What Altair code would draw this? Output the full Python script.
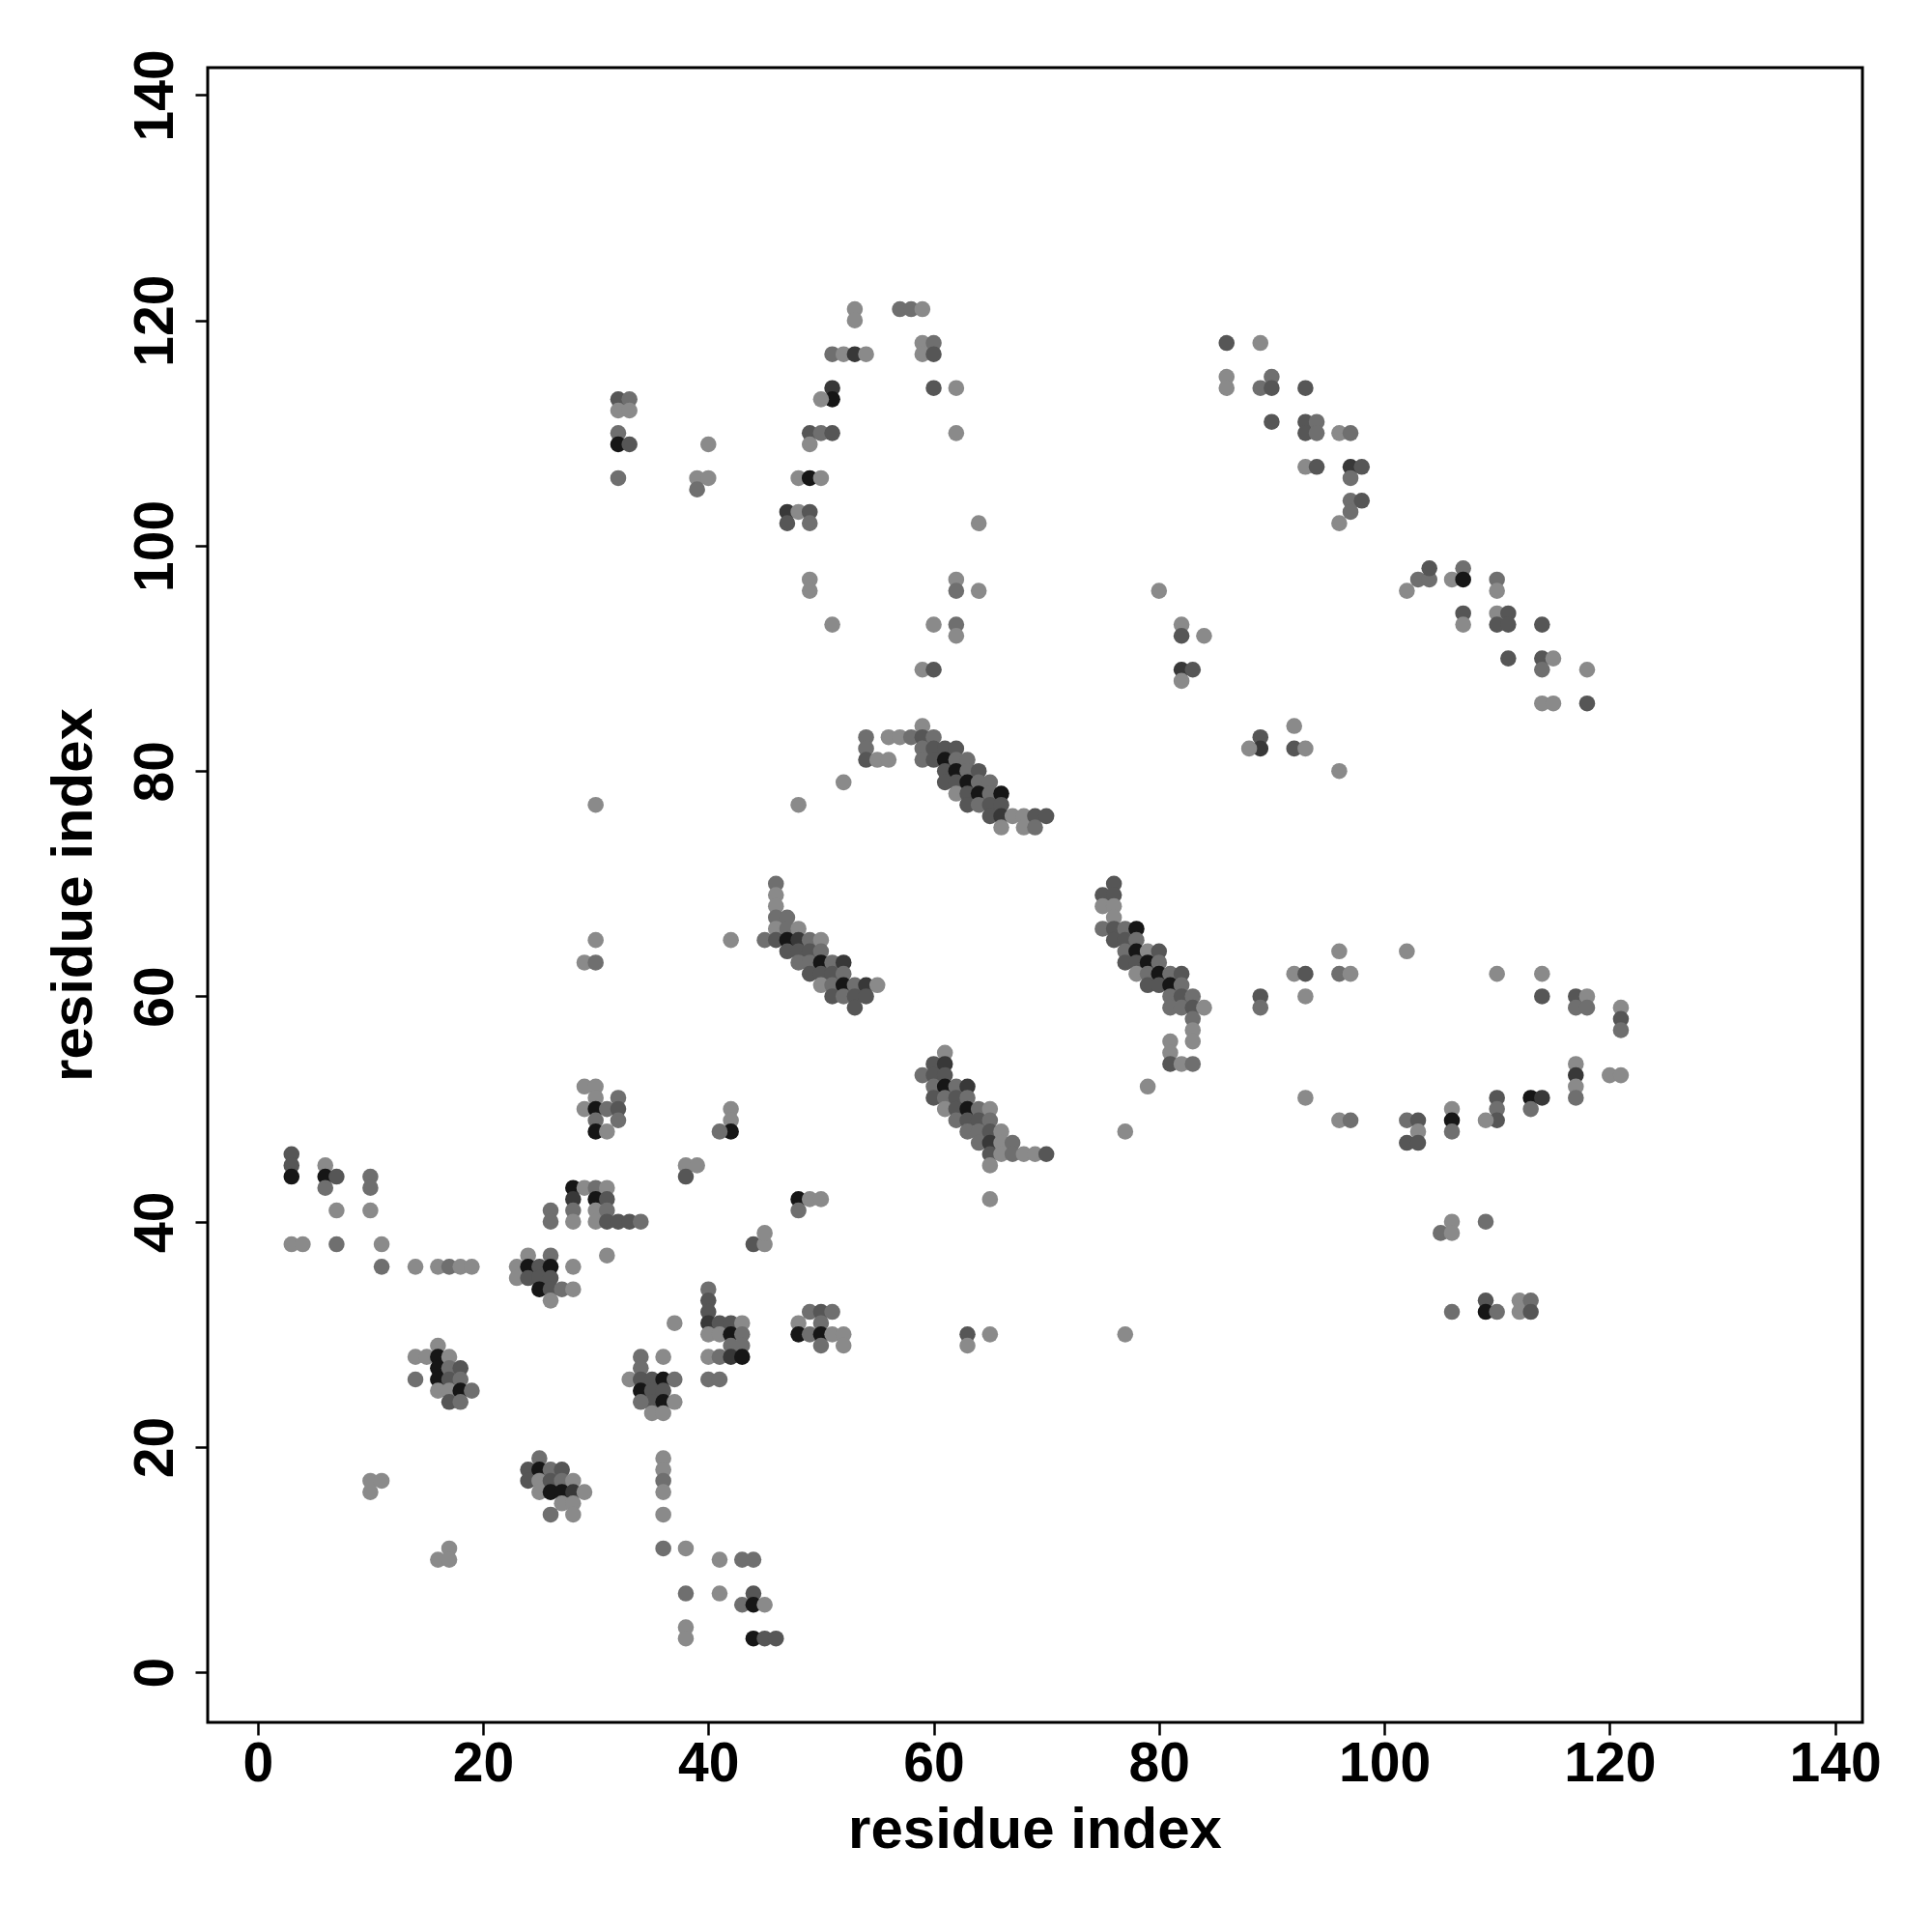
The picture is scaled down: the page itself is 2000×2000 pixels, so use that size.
import altair as alt
import pandas as pd

# contacts: (residue i, residue j, shade level 1=light .. 5=black)
upper_left = [
    (32,113,3),(33,113,2),(32,112,1),(33,112,1),(32,110,2),(32,109,5),(33,109,3),(32,106,2),
    (40,109,1),(39,106,1),(40,106,1),(39,105,2),
]
upper_mid = [
    (53,121,1),(53,120,1),(57,121,2),(58,121,2),(59,121,1),
    (59,118,1),(60,118,2),(59,117,1),(60,117,3),
    (51,117,2),(52,117,1),(53,117,4),(54,117,1),
    (51,114,4),(51,113,5),(50,113,1),(60,114,3),(62,114,1),
    (49,110,3),(50,110,2),(51,110,3),(49,109,1),(62,110,1),
    (48,106,1),(49,106,5),(50,106,1),
    (47,103,4),(48,103,1),(49,103,3),(47,102,3),(49,102,2),(64,102,1),
    (49,97,1),(49,96,1),(62,97,1),(62,96,2),(64,96,1),
    (51,93,1),(60,93,1),(62,93,2),(62,92,1),(59,89,1),(60,89,3),
]
upper_right = [
    (86,118,3),(89,118,1),(86,115,1),(86,114,1),(89,114,2),(90,115,2),(90,114,3),(93,114,3),
    (90,111,3),(93,111,3),(94,111,2),(93,110,3),(94,110,2),(96,110,1),(97,110,2),
    (93,107,1),(94,107,3),(97,107,4),(98,107,3),(97,106,2),
    (97,104,2),(98,104,3),(97,103,2),(96,102,1),
    (80,96,1),(82,93,1),(82,92,3),(84,92,1),(82,89,4),(83,89,3),(82,88,1),
    (89,83,3),(89,82,4),(88,82,1),(92,84,1),(92,82,3),(93,82,1),(96,80,1),
    (102,96,1),(103,97,2),(104,97,2),(104,98,3),(106,97,1),(107,98,2),(107,97,5),(110,97,2),(110,96,1),
    (107,94,3),(107,93,1),(110,94,1),(111,94,3),(110,93,3),(111,93,3),(114,93,3),
    (111,90,3),(114,90,3),(115,90,1),(114,89,2),(118,89,1),(114,86,1),(115,86,1),(118,86,3),
]
strand_80 = [
    (54,83,2),(54,82,2),(54,81,3),(55,81,1),(56,81,1),(56,83,1),(57,83,1),(58,83,2),(59,84,1),(59,83,3),(60,83,2),
    (59,82,2),(59,81,2),(60,82,3),(60,81,3),(61,82,3),(61,81,5),(61,80,3),(61,79,3),(62,82,3),(62,81,2),(62,80,5),(62,79,3),(62,78,1),
    (63,81,2),(63,80,2),(63,79,5),(63,78,3),(63,77,3),(64,80,3),(64,79,2),(64,78,5),(64,77,2),
    (65,79,2),(65,78,2),(65,77,3),(65,76,3),(66,78,5),(66,77,3),(66,76,4),(66,75,1),
    (67,76,1),(68,76,1),(68,75,1),(69,76,3),(69,75,2),(70,76,3),(52,79,1),(48,77,1),(30,77,1),
]
strand_65 = [
    (46,70,2),(46,69,1),(46,68,1),(46,67,2),(47,67,2),(46,66,1),(47,66,2),(48,66,1),
    (42,65,1),(45,65,2),(46,65,3),(47,65,5),(48,65,4),(49,65,2),(50,65,1),
    (47,64,3),(48,64,3),(49,64,3),(50,64,2),
    (48,63,2),(49,63,2),(50,63,5),(51,63,2),(52,63,4),
    (49,62,3),(50,62,3),(51,62,3),(52,62,2),
    (50,61,1),(51,61,2),(52,61,5),(53,61,2),(54,61,4),(55,61,1),
    (51,60,3),(52,60,2),(53,60,3),(54,60,3),(53,59,3),
    (30,65,1),(29,63,1),(30,63,2),
]
strand_50 = [
    (61,55,1),(60,54,3),(61,54,4),(59,53,2),(60,53,3),(61,53,3),(60,52,2),(61,52,5),(62,52,2),(63,52,4),
    (60,51,3),(61,51,2),(62,51,3),(63,51,2),(61,50,1),(62,50,3),(63,50,5),(64,50,2),(65,50,1),
    (62,49,2),(63,49,3),(64,49,3),(65,49,2),(63,48,2),(64,48,2),(65,48,3),(66,48,1),
    (64,47,2),(65,47,4),(66,47,1),(67,47,2),(65,46,3),(66,46,1),(67,46,2),(68,46,1),(69,46,1),(70,46,3),(65,45,1),(65,42,1),
    (42,50,1),(42,49,1),(42,48,5),(41,48,2),(38,45,1),(39,45,1),(38,44,3),(48,42,5),(49,42,1),(50,42,1),(48,41,2),
    (29,52,1),(30,52,1),(32,51,2),(30,51,1),(29,50,1),(30,50,5),(31,50,2),(32,50,3),(30,49,2),(32,49,2),(30,48,5),(31,48,1),
]
strand_right = [
    (76,70,3),(75,69,3),(76,69,3),(75,68,1),(76,68,1),(76,67,1),(75,66,2),(76,66,3),(77,66,2),(78,66,5),
    (76,65,3),(77,65,3),(78,65,2),(77,64,2),(78,64,5),(79,64,1),(80,64,3),
    (77,63,3),(78,63,3),(79,63,5),(80,63,2),(78,62,1),(79,62,2),(80,62,5),(81,62,2),(82,62,3),
    (79,61,3),(80,61,3),(81,61,5),(82,61,2),(81,60,2),(82,60,3),(83,60,2),
    (81,59,2),(82,59,2),(83,59,3),(84,59,1),(83,58,2),(83,57,1),(83,56,1),(81,56,1),(81,55,1),(81,54,3),(82,54,1),(83,54,2),
    (79,52,1),(77,48,1),(89,60,3),(89,59,2),(92,62,1),(93,62,3),(93,60,1),(96,64,1),(96,62,2),(97,62,1),(102,64,1),
    (93,51,1),(96,49,1),(97,49,2),
    (110,62,1),(114,62,1),(114,60,3),(117,60,3),(118,60,1),(117,59,2),(118,59,2),(121,59,1),(121,58,3),(121,57,2),
    (117,54,1),(117,53,4),(117,52,1),(117,51,2),(120,53,1),(121,53,1),
    (113,51,5),(114,51,4),(113,50,2),(110,51,3),(110,50,2),(110,49,3),(109,49,1),
    (106,50,1),(106,49,5),(106,48,2),(102,49,2),(103,49,3),(103,48,1),(102,47,3),(103,47,3),
    (106,40,1),(105,39,2),(106,39,1),(109,40,2),(106,32,2),(109,33,3),(109,32,5),(110,32,2),(112,33,1),(113,33,2),(112,32,1),(113,32,3),
]
lower_left = [
    (3,46,3),(3,45,3),(3,44,5),(6,45,1),(6,44,5),(7,44,3),(6,43,2),(10,44,2),(10,43,2),
    (7,41,1),(10,41,1),(3,38,1),(4,38,1),(7,38,2),(11,38,1),(11,36,2),(14,36,1),(16,36,1),(17,36,2),(18,36,1),(19,36,1),
    (26,41,2),(26,40,2),
    (28,43,5),(29,43,1),(30,43,2),(31,43,1),(28,42,4),(30,42,5),(31,42,3),(28,41,2),(30,41,1),(31,41,2),
    (28,40,1),(30,40,1),(31,40,3),(32,40,3),(33,40,3),(34,40,2),(31,37,1),
    (24,37,1),(26,37,2),(23,36,1),(24,36,5),(25,36,3),(26,36,5),(28,36,1),(23,35,1),(24,35,3),(25,35,3),(26,35,3),
    (25,34,5),(26,34,3),(27,34,2),(28,34,1),(26,33,1),
    (16,29,1),(14,28,1),(15,28,1),(16,28,5),(17,28,1),(16,27,5),(17,27,2),(18,27,3),(14,26,2),(16,26,5),(17,26,3),(18,26,2),
    (16,25,1),(17,25,1),(18,25,5),(19,25,2),(17,24,3),(18,24,2),
    (25,19,2),(24,18,3),(25,18,5),(26,18,2),(27,18,3),(24,17,3),(25,17,1),(26,17,3),(27,17,2),(28,17,1),
    (25,16,1),(26,16,5),(27,16,5),(28,16,4),(29,16,1),(27,15,1),(28,15,1),(26,14,2),(28,14,1),
    (10,17,1),(11,17,1),(10,16,1),(17,11,1),(16,10,1),(17,10,1),
]
lower_mid = [
    (44,38,3),(45,38,1),(45,39,1),
    (40,34,2),(40,33,3),(40,32,3),(40,31,4),(41,31,3),(42,31,3),(43,31,1),(37,31,1),(40,30,1),(41,30,1),(42,30,5),(43,30,2),
    (42,29,2),(43,29,2),(40,28,1),(41,28,2),(42,28,4),(43,28,5),(40,26,2),(41,26,2),
    (34,28,2),(36,28,1),(33,26,1),(34,27,2),(34,26,3),(34,25,5),(35,26,3),(35,25,3),(35,24,3),(36,26,5),(36,25,3),(36,24,5),
    (37,26,2),(37,24,1),(35,23,1),(36,23,1),(34,24,2),
    (36,19,1),(36,18,1),(36,17,2),(36,16,1),(36,14,1),(36,11,2),(38,11,1),(41,10,1),(43,10,2),(44,10,2),
    (38,7,2),(41,7,1),(44,7,3),(43,6,2),(44,6,5),(45,6,1),(38,4,1),(38,3,1),(44,3,5),(45,3,3),(46,3,3),
    (48,31,1),(49,32,2),(50,32,3),(51,32,2),(50,31,2),(48,30,5),(49,30,2),(50,30,5),(51,30,1),(52,30,1),(50,29,2),(52,29,1),
    (63,30,3),(63,29,1),(65,30,1),(77,30,1),
]

shade_levels = [1, 2, 3, 4, 5]
shade_colors = ["#8a8a8a", "#6f6f6f", "#565656", "#383838", "#161616"]
tick_values = [0, 20, 40, 60, 80, 100, 120, 140]

rows = []
for group in [upper_left, upper_mid, upper_right, strand_80, strand_65, strand_50,
              strand_right, lower_left, lower_mid]:
    for i, j, s in group:
        rows.append({"i": i, "j": j, "shade": s})
df = pd.DataFrame(rows)

FONT = "Liberation Sans"
dom = [-4.44, 142.44]

chart = alt.Chart(df).mark_circle(size=275, opacity=1).encode(
    x=alt.X("i:Q", scale=alt.Scale(domain=dom, nice=False, zero=False),
            axis=alt.Axis(values=tick_values, title="residue index", grid=False, domain=False,
                          tickSize=13, tickWidth=2.5, tickColor="black",
                          labelFont=FONT, labelFontSize=57, labelFontWeight="bold", labelColor="black",
                          labelPadding=2, labelFlush=False,
                          titleFont=FONT, titleFontSize=60, titleFontWeight="bold", titleColor="black",
                          titleBaseline="alphabetic", titleY=129, titleX=856, titleAlign="center")),
    y=alt.Y("j:Q", scale=alt.Scale(domain=dom, nice=False, zero=False),
            axis=alt.Axis(values=tick_values, title="residue index", grid=False, domain=False,
                          tickSize=13, tickWidth=2.5, tickColor="black",
                          labelFont=FONT, labelFontSize=57, labelFontWeight="bold", labelColor="black",
                          labelAngle=270, labelAlign="center", labelBaseline="alphabetic",
                          labelPadding=24, labelFlush=False,
                          titleFont=FONT, titleFontSize=60, titleFontWeight="bold", titleColor="black",
                          titleAngle=270, titleBaseline="alphabetic", titleAlign="center",
                          titleX=-121, titleY=856)),
    color=alt.Color("shade:O", scale=alt.Scale(domain=shade_levels, range=shade_colors), legend=None),
).properties(
    width=1713, height=1713,
    autosize=alt.AutoSizeParams(type="none"),
    padding={"left": 207, "top": 62, "right": 60, "bottom": 200},
    background="white",
).configure_view(stroke="black", strokeWidth=3)

chart.save("out.html", embed_options={"renderer": "svg", "actions": False})
